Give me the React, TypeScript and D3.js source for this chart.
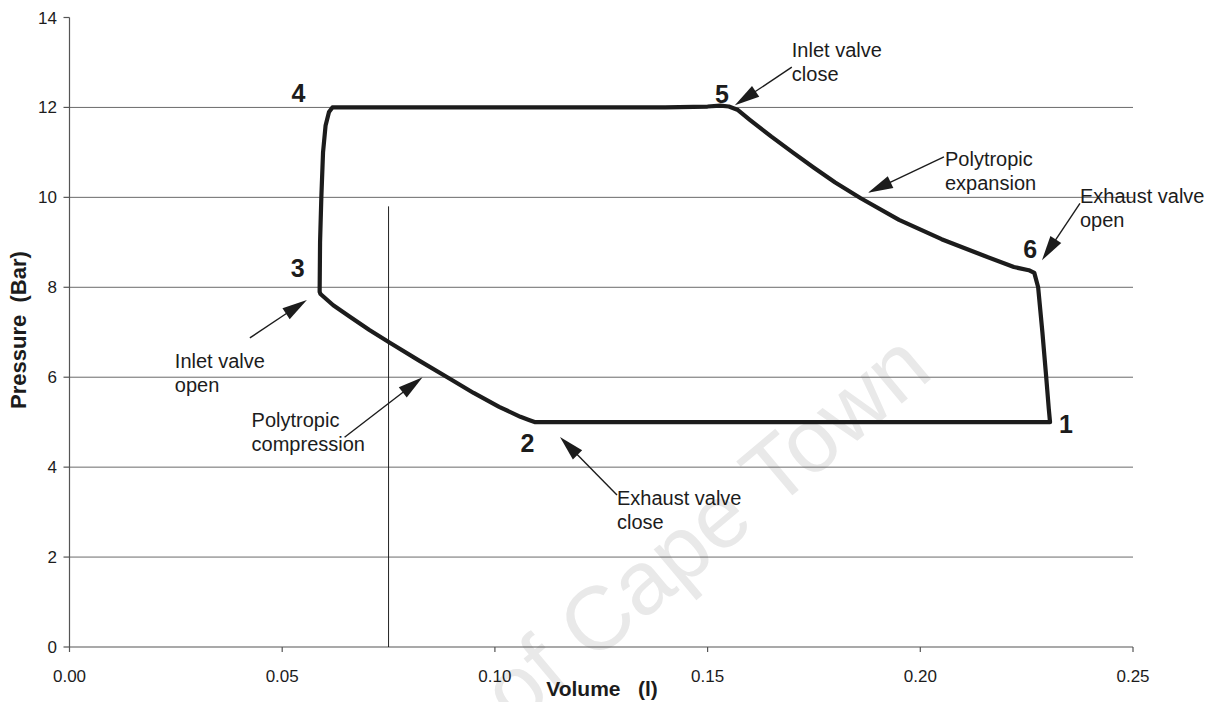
import React from "react";
import * as d3 from "d3";

// Axis ticks
const volumeTicks = [0, 0.05, 0.1, 0.15, 0.2, 0.25];
const pressureTicks = [0, 2, 4, 6, 8, 10, 12, 14];
const gridPressures = [2, 4, 6, 8, 10, 12];

// Indicator diagram (volume in litres, pressure in bar), traced 1 -> 2 -> 3 -> 4 -> 5 -> 6 -> 1
const cycleVolume = [
  0.2305, 0.2, 0.17, 0.14, 0.12, 0.1095, 0.108,
  0.106, 0.101, 0.095, 0.0895, 0.082, 0.0754, 0.0705, 0.066, 0.062, 0.059, 0.0588,
  0.0589, 0.0592, 0.0596, 0.0602, 0.061, 0.0618,
  0.08, 0.1, 0.12, 0.14, 0.15, 0.153, 0.155,
  0.157, 0.16, 0.165, 0.17, 0.175, 0.18, 0.186, 0.195, 0.205, 0.215, 0.222, 0.2255, 0.2268,
  0.2277, 0.2287, 0.2296, 0.2302, 0.2305,
];
const cyclePressure = [
  5.0, 5.0, 5.0, 5.0, 5.0, 5.0, 5.05,
  5.12, 5.34, 5.65, 5.96, 6.38, 6.76, 7.05, 7.34, 7.6, 7.85, 7.9,
  9.0, 10.0, 11.0, 11.6, 11.9, 12.0,
  12.0, 12.0, 12.0, 12.0, 12.02, 12.04, 12.02,
  11.95, 11.72, 11.35, 11.0, 10.66, 10.33, 9.98, 9.5, 9.07, 8.7, 8.45, 8.38, 8.32,
  8.0, 7.0, 6.0, 5.3, 5.0,
];

// Thin vertical marker line
const markerVolume = [0.075, 0.075];
const markerPressure = [0, 9.8];

// Numbered states of the cycle
const stateNames = ["1", "2", "3", "4", "5", "6"];
const stateVolume = [0.2305, 0.11, 0.0588, 0.0618, 0.155, 0.2268];
const statePressure = [5.0, 5.0, 7.9, 12.0, 12.02, 8.32];

// Callouts: text lines and the point each arrow points at
const calloutText = [
  ["Inlet valve", "close"],
  ["Polytropic", "expansion"],
  ["Exhaust valve", "open"],
  ["Inlet valve", "open"],
  ["Polytropic", "compression"],
  ["Exhaust valve", "close"],
];
const calloutVolume = [0.1564, 0.1877, 0.2286, 0.0558, 0.083, 0.1153];
const calloutPressure = [12.05, 10.1, 8.6, 7.72, 6.0, 4.67];

// Layout (pixel offsets relative to the anchored data point)
const stateLabelOffset = [[16, 11], [-10, 30], [-22, -15], [-34, -5], [-7, -4], [-4, -15]];
const calloutTailOffset = [[57, -38], [76, -36], [38, -57], [-57, 38], [-78, 60], [57, 58]];
const calloutTextOffset = [[57, -48], [77, -27], [38, -57], [-132, 68], [-171, 50], [57, 68]];

const W = 1225;
const H = 702;
const FONT = "'Liberation Sans', Arial, Helvetica, sans-serif";
const INK = "#1c1c1c";

export default function App() {
  const x = d3.scaleLinear().domain([0, 0.25]).range([69.5, 1133]);
  const y = d3.scaleLinear().domain([0, 14]).range([647, 17.5]);

  const cycle = cycleVolume.map((v, i) => [v, cyclePressure[i]] as [number, number]);
  const line = d3
    .line<[number, number]>()
    .x((d) => x(d[0]))
    .y((d) => y(d[1]))
    .curve(d3.curveLinear);

  const marker = markerVolume.map((v, i) => [v, markerPressure[i]] as [number, number]);

  const arrow = (i: number) => {
    const tx = x(calloutVolume[i]);
    const ty = y(calloutPressure[i]);
    const sx = tx + calloutTailOffset[i][0];
    const sy = ty + calloutTailOffset[i][1];
    const dx = tx - sx;
    const dy = ty - sy;
    const len = Math.hypot(dx, dy);
    const ux = dx / len;
    const uy = dy / len;
    const headLen = 25;
    const halfW = 6.5;
    const bx = tx - ux * headLen;
    const by = ty - uy * headLen;
    const px = -uy;
    const py = ux;
    const head = `${tx},${ty} ${bx + px * halfW},${by + py * halfW} ${bx - px * halfW},${by - py * halfW}`;
    return (
      <g key={`arrow-${i}`}>
        <line x1={sx} y1={sy} x2={bx + ux * 4} y2={by + uy * 4} stroke={INK} strokeWidth={1.4} />
        <polygon points={head} fill={INK} />
      </g>
    );
  };

  return (
    <div style={{ position: "absolute", left: 0, top: 0, width: W, height: H, background: "#fff" }}>
      <svg width={W} height={H} viewBox={`0 0 ${W} ${H}`} style={{ display: "block" }}>
        <rect x={0} y={0} width={W} height={H} fill="#fff" />

        {/* faint diagonal watermark */}
        <text
          transform="translate(515,728) rotate(-40)"
          fontFamily={FONT}
          fontSize={90}
          fill="#e9e9e9"
        >
          of Cape Town
        </text>

        {/* horizontal gridlines */}
        {gridPressures.map((p) => (
          <line key={`g${p}`} x1={x(0)} x2={x(0.25)} y1={y(p)} y2={y(p)} stroke="#6a6a6a" strokeWidth={1} />
        ))}

        {/* axes */}
        <line x1={x(0)} x2={x(0.25)} y1={y(0)} y2={y(0)} stroke="#555" strokeWidth={1.2} />
        <line x1={x(0)} x2={x(0)} y1={y(0)} y2={y(14)} stroke="#555" strokeWidth={1.2} />
        {pressureTicks.map((p) => (
          <g key={`yt${p}`}>
            <line x1={x(0) - 6} x2={x(0)} y1={y(p)} y2={y(p)} stroke="#555" strokeWidth={1.2} />
            <text x={57} y={y(p) + 6} textAnchor="end" fontFamily={FONT} fontSize={17} fill={INK}>
              {p}
            </text>
          </g>
        ))}
        {volumeTicks.map((v) => (
          <g key={`xt${v}`}>
            <line x1={x(v)} x2={x(v)} y1={y(0)} y2={y(0) + 5} stroke="#555" strokeWidth={1.2} />
            <text x={x(v)} y={682} textAnchor="middle" fontFamily={FONT} fontSize={17} fill={INK}>
              {d3.format(".2f")(v)}
            </text>
          </g>
        ))}

        {/* axis titles */}
        <text x={602} y={696} textAnchor="middle" fontFamily={FONT} fontSize={21} fontWeight="bold" fill={INK} xmlSpace="preserve">
          {"Volume   (l)"}
        </text>
        <text
          transform="translate(26,330) rotate(-90)"
          textAnchor="middle"
          fontFamily={FONT}
          fontSize={22}
          fontWeight="bold"
          fill={INK}
          xmlSpace="preserve"
        >
          {"Pressure  (Bar)"}
        </text>

        {/* vertical marker */}
        <path d={line(marker) ?? ""} stroke="#222" strokeWidth={1} fill="none" />

        {/* cycle */}
        <path
          d={line(cycle) ?? ""}
          stroke={INK}
          strokeWidth={4.2}
          fill="none"
          strokeLinejoin="round"
          strokeLinecap="round"
        />

        {/* state numbers */}
        {stateNames.map((s, i) => (
          <text
            key={`s${s}`}
            x={x(stateVolume[i]) + stateLabelOffset[i][0]}
            y={y(statePressure[i]) + stateLabelOffset[i][1]}
            textAnchor="middle"
            fontFamily={FONT}
            fontSize={25}
            fontWeight="bold"
            fill={INK}
          >
            {s}
          </text>
        ))}

        {/* callouts */}
        {calloutText.map((lines, i) => (
          <g key={`c${i}`}>
            {arrow(i)}
            {lines.map((t, j) => (
              <text
                key={j}
                x={x(calloutVolume[i]) + calloutTextOffset[i][0]}
                y={y(calloutPressure[i]) + calloutTextOffset[i][1] + j * 24}
                fontFamily={FONT}
                fontSize={20}
                fill={INK}
              >
                {t}
              </text>
            ))}
          </g>
        ))}
      </svg>
    </div>
  );
}
